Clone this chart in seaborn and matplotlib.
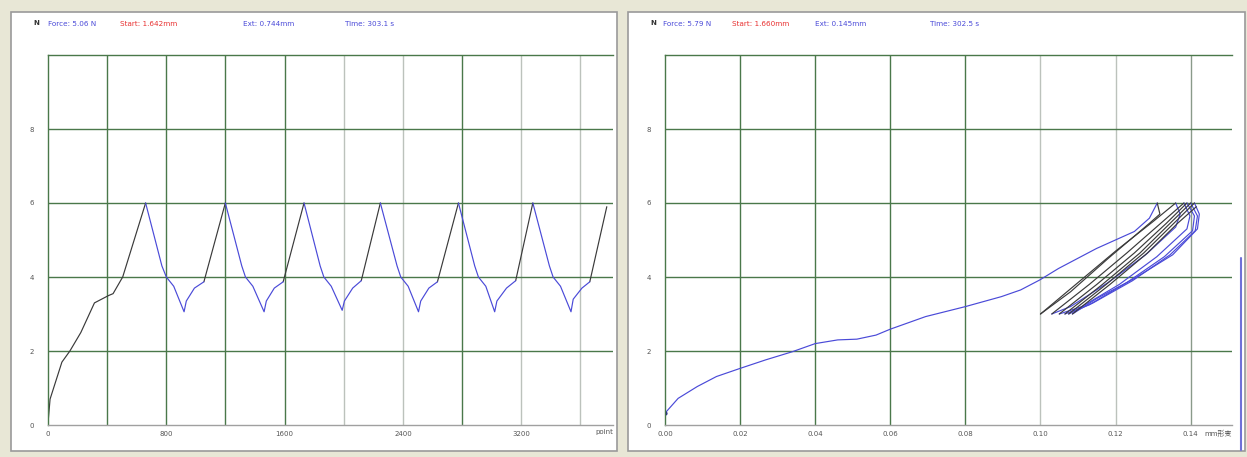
import matplotlib
matplotlib.use("Agg")
import matplotlib.pyplot as plt
from matplotlib.patches import Rectangle
import seaborn as sns
import pandas as pd

# ---- left panel: force vs. sample point ----
left_x = [0, 14, 94, 148, 222, 314, 410, 440, 505, 660,
          770, 800, 850, 920, 935, 990, 1054, 1199,
          1310, 1335, 1385, 1461, 1476, 1530, 1590, 1731,
          1840, 1865, 1915, 1989, 2004, 2060, 2118, 2247,
          2360, 2385, 2435, 2505, 2520, 2575, 2633, 2775,
          2885, 2910, 2960, 3020, 3035, 3100, 3162, 3278,
          3390, 3415, 3465, 3536, 3551, 3610, 3663, 3778]
left_y = [0.05, 0.7, 1.7, 2.0, 2.5, 3.3, 3.5, 3.55, 4.0, 6.0,
          4.3, 4.0, 3.75, 3.06, 3.35, 3.7, 3.87, 6.0,
          4.3, 4.0, 3.75, 3.06, 3.35, 3.7, 3.87, 6.0,
          4.3, 4.0, 3.75, 3.1, 3.35, 3.7, 3.9, 6.0,
          4.3, 4.0, 3.75, 3.06, 3.35, 3.7, 3.87, 6.0,
          4.3, 4.0, 3.75, 3.06, 3.35, 3.7, 3.9, 6.0,
          4.3, 4.0, 3.75, 3.06, 3.4, 3.7, 3.87, 5.9]
left_peaks = [9, 17, 25, 33, 41, 49]     # point index of each 6 N peak
left_knees = [16, 24, 32, 40, 48, 56]    # start of each steep reload
left_xticks = [0, 800, 1600, 2400, 3200]

# ---- right panel: force vs. deformation ----
right_load_x = [0, 0.0035, 0.0086, 0.0137, 0.02, 0.0268, 0.0339, 0.04, 0.046,
                0.0511, 0.0562, 0.06, 0.0694, 0.08, 0.0896, 0.0947, 0.0998,
                0.1048, 0.1149, 0.125, 0.129, 0.1311]
right_load_y = [0.32, 0.72, 1.04, 1.31, 1.53, 1.76, 1.98, 2.2, 2.3, 2.32,
                2.43, 2.59, 2.93, 3.2, 3.47, 3.65, 3.92, 4.23, 4.77, 5.23,
                5.59, 6.0]
unload_x = [
    [0.1311, 0.1318, 0.1290, 0.1180, 0.1080, 0.1000],
    [0.1360, 0.1372, 0.1360, 0.1280, 0.1180, 0.1080, 0.1030],
    [0.1382, 0.1398, 0.1390, 0.1310, 0.1210, 0.1110, 0.1050],
    [0.1390, 0.1410, 0.1405, 0.1330, 0.1230, 0.1130, 0.1065],
    [0.1400, 0.1418, 0.1412, 0.1345, 0.1245, 0.1140, 0.1075],
    [0.1410, 0.1423, 0.1418, 0.1352, 0.1250, 0.1150, 0.1085],
]
unload_y = [
    [6.0, 5.7, 5.45, 4.5, 3.6, 3.0],
    [6.0, 5.7, 5.35, 4.6, 3.85, 3.2, 3.0],
    [6.0, 5.65, 5.3, 4.55, 3.8, 3.2, 3.0],
    [6.0, 5.65, 5.25, 4.55, 3.85, 3.25, 3.0],
    [6.0, 5.65, 5.25, 4.6, 3.9, 3.3, 3.0],
    [6.0, 5.7, 5.3, 4.6, 3.96, 3.42, 3.0],
]
reload_x = [
    [0.1000, 0.1100, 0.1200, 0.1300, 0.1360],
    [0.1030, 0.1130, 0.1230, 0.1320, 0.1382],
    [0.1050, 0.1150, 0.1250, 0.1335, 0.1390],
    [0.1065, 0.1165, 0.1265, 0.1345, 0.1400],
    [0.1075, 0.1175, 0.1275, 0.1355, 0.1410],
    [0.1085, 0.1185, 0.1285, 0.1365, 0.1415],
]
reload_y = [
    [3.0, 3.85, 4.7, 5.5, 6.0],
    [3.0, 3.8, 4.65, 5.45, 6.0],
    [3.0, 3.8, 4.65, 5.45, 6.0],
    [3.0, 3.8, 4.65, 5.45, 6.0],
    [3.0, 3.8, 4.65, 5.45, 6.0],
    [3.0, 3.8, 4.65, 5.45, 5.9],
]
right_xticks = [0.00, 0.02, 0.04, 0.06, 0.08, 0.10, 0.12, 0.14]
yticks = [0, 2, 4, 6, 8]

left_header = ["Force: 5.06 N", "Start: 1.642mm", "Ext: 0.744mm", "Time: 303.1 s"]
right_header = ["Force: 5.79 N", "Start: 1.660mm", "Ext: 0.145mm", "Time: 302.5 s"]

DARK = "#3a3a3a"
BLUE = "#4a4ad8"
GREEN = "#4a784a"
LIGHT = "#bcc2bc"

sns.set_style("white")
plt.rcParams["font.family"] = ["DejaVu Sans", "Noto Sans CJK SC"]

W, H = 1247, 457
fig = plt.figure(figsize=(W / 100, H / 100), dpi=100, facecolor="#e8e7d6")

# window frames (behind the axes)
for x0, x1 in [(11, 617), (628, 1245)]:
    fig.add_artist(Rectangle((x0 / W, 1 - 451 / H), (x1 - x0) / W, 439 / H,
                             transform=fig.transFigure, facecolor="white",
                             edgecolor="#9a9a9a", lw=1.2, zorder=-10))
fig.add_artist(plt.Line2D([1241 / W, 1241 / W], [1 - 450 / H, 1 - 258 / H],
                          transform=fig.transFigure, color="#7070d8", lw=1.5))


def build_left():
    rows = []
    runs = [(0, left_peaks[0], "up")]
    for i, p in enumerate(left_peaks):
        runs.append((p, left_knees[i], "down"))
        end = left_peaks[i + 1] if i + 1 < len(left_peaks) else len(left_x) - 1
        runs.append((left_knees[i], end, "up"))
    for r, (a, b, ph) in enumerate(runs):
        for k in range(a, b + 1):
            rows.append({"x": left_x[k], "y": left_y[k], "run": r, "phase": ph})
    return pd.DataFrame(rows)


def build_right():
    rows = [{"x": x, "y": y, "run": 0, "phase": "down"}
            for x, y in zip(right_load_x, right_load_y)]
    run = 1
    for i in range(len(unload_x)):
        ph = "up" if i == 0 else "down"
        rows += [{"x": x, "y": y, "run": run, "phase": ph}
                 for x, y in zip(unload_x[i], unload_y[i])]
        run += 1
        rows += [{"x": x, "y": y, "run": run, "phase": "up"}
                 for x, y in zip(reload_x[i], reload_y[i])]
        run += 1
    return pd.DataFrame(rows)


def style_axes(ax, xmax, vlines, vcolors):
    ax.set_facecolor("none")
    ax.set_xlim(0, xmax)
    ax.set_ylim(0, 10)
    for v, c in zip(vlines, vcolors):
        ax.axvline(v, color=c, lw=1.0, zorder=0)
    for h in [2, 4, 6, 8]:
        ax.axhline(h, color=GREEN, lw=1.0, zorder=0)
    ax.spines["right"].set_visible(False)
    ax.spines["top"].set_color(GREEN)
    ax.spines["left"].set_color(GREEN)
    ax.spines["bottom"].set_color("#a0a0a0")
    for s in ax.spines.values():
        s.set_linewidth(1.0)
    ax.set_yticks(yticks)
    ax.set_yticklabels([str(t) for t in yticks])
    ax.tick_params(axis="y", length=0, labelsize=5, colors="#555555", pad=10)
    ax.tick_params(axis="x", length=0, labelsize=5, colors="#555555", pad=4)
    ax.set_xlabel("")
    ax.set_ylabel("")


pal = {"up": DARK, "down": BLUE}

axL = fig.add_axes([48 / W, 1 - 425 / H, 565 / W, 370 / H])
sns.lineplot(data=build_left(), x="x", y="y", units="run", hue="phase",
             palette=pal, estimator=None, sort=False, legend=False,
             lw=0.85, ax=axL)
style_axes(axL, 3820, [400 * i for i in range(1, 10)],
           [GREEN, GREEN, GREEN, GREEN, LIGHT, LIGHT, GREEN, LIGHT, LIGHT])
axL.set_xticks(left_xticks)
axL.set_xticklabels([str(t) for t in left_xticks])
axL.text(1.0, -0.012, "point", transform=axL.transAxes, ha="right", va="top",
         fontsize=5, color="#555555")

axR = fig.add_axes([665 / W, 1 - 425 / H, 567 / W, 370 / H])
sns.lineplot(data=build_right(), x="x", y="y", units="run", hue="phase",
             palette=pal, estimator=None, sort=False, legend=False,
             lw=0.85, ax=axR)
axR.plot(right_load_x[0], right_load_y[0], "o", ms=2, color="#2a2a8a")
style_axes(axR, 0.151, right_xticks[1:],
           [GREEN, GREEN, GREEN, GREEN, LIGHT, LIGHT, "#8a9a8a"])
axR.set_xticks(right_xticks)
axR.set_xticklabels([f"{t:.2f}" for t in right_xticks])
axR.text(1.0, -0.012, "mm形变", transform=axR.transAxes, ha="right", va="top",
         fontsize=5, color="#555555", family=["DejaVu Sans", "Noto Sans CJK SC"])

# header lines above each graph
hdr_cols = [BLUE, "#e83030", BLUE, BLUE]
for x_icon, xs, texts in [(33, [48, 120, 243, 345], left_header),
                          (650, [663, 732, 815, 930], right_header)]:
    fig.text(x_icon / W, 1 - 23 / H, "N", fontsize=5, color="#333333",
             fontweight="bold", va="center")
    for xp, t, c in zip(xs, texts, hdr_cols):
        fig.text(xp / W, 1 - 24 / H, t, fontsize=5.2, color=c, va="center")

fig.savefig("out.png", dpi=100, facecolor=fig.get_facecolor())
